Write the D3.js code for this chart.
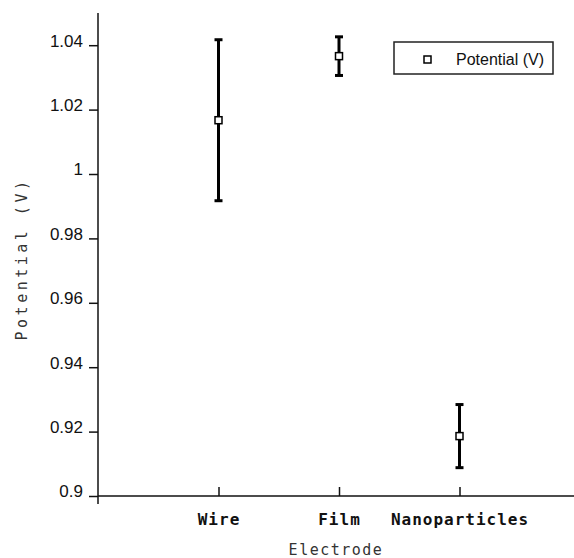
<!DOCTYPE html>
<html>
<head>
<meta charset="utf-8">
<script src="https://cdn.jsdelivr.net/npm/d3@7"></script>
<style>
  body { margin: 0; background: #fff; }
  svg { display: block; }
</style>
</head>
<body>
<svg id="chart" width="574" height="558"></svg>
<script>
const categories = ["Wire", "Film", "Nanoparticles"]
const potential = [1.0167, 1.0366, 0.9186]
const errors = [0.025, 0.006, 0.0098]
const yTicks = [0.9, 0.92, 0.94, 0.96, 0.98, 1, 1.02, 1.04]
const seriesName = "Potential (V)"

const svg = d3.select("#chart")
const plotLeft = 98, plotBottom = 496, plotTop = 13

const x = d3.scaleLinear().domain([0, 4]).range([plotLeft, 580])
const y = d3.scaleLinear().domain([0.9, 1.05]).range([plotBottom, plotTop])

const ink = "#111"

// y axis: ticks outward, line runs a bit below the x axis
const yAxis = svg.append("g")
    .attr("transform", "translate(" + plotLeft + ",0)")
    .call(d3.axisLeft(y).tickValues(yTicks).tickSize(9).tickPadding(6)
        .tickFormat(d => String(+d.toFixed(2))))
yAxis.select(".domain").remove()
yAxis.selectAll(".tick line").attr("stroke", ink).attr("stroke-width", 1.5)
yAxis.selectAll(".tick text")
    .attr("font-family", "'Liberation Sans', Arial, sans-serif")
    .attr("font-size", 17)
    .attr("fill", ink)
    .attr("dy", "0.05em")
svg.append("line")
    .attr("x1", plotLeft).attr("x2", plotLeft)
    .attr("y1", plotTop).attr("y2", plotBottom + 8)
    .attr("stroke", ink).attr("stroke-width", 1.5)

// x axis: ticks point inward
const xAxis = svg.append("g")
    .attr("transform", "translate(0," + plotBottom + ")")
    .call(d3.axisBottom(x).tickValues([1, 2, 3]).tickSize(-9).tickPadding(18)
        .tickFormat(d => categories[d - 1]))
xAxis.select(".domain").remove()
xAxis.selectAll(".tick line").attr("stroke", ink).attr("stroke-width", 1.5)
xAxis.selectAll(".tick text")
    .attr("font-family", "'DejaVu Sans Mono', monospace")
    .attr("font-weight", "bold")
    .attr("font-size", 16)
    .attr("letter-spacing", 1)
    .attr("fill", ink)
svg.append("line")
    .attr("x1", plotLeft).attr("x2", 574)
    .attr("y1", plotBottom).attr("y2", plotBottom)
    .attr("stroke", ink).attr("stroke-width", 1.5)

// axis titles
svg.append("text")
    .attr("x", (plotLeft + 574) / 2)
    .attr("y", 555)
    .attr("text-anchor", "middle")
    .attr("font-family", "'DejaVu Sans Mono', monospace")
    .attr("font-size", 15)
    .attr("letter-spacing", 1.5)
    .attr("fill", "#333")
    .text("Electrode")

svg.append("text")
    .attr("transform", "translate(27," + 259 + ") rotate(-90)")
    .attr("text-anchor", "middle")
    .attr("font-family", "'DejaVu Sans Mono', monospace")
    .attr("font-size", 15)
    .attr("letter-spacing", 3.5)
    .attr("fill", "#333")
    .text("Potential (V)")

// error bars + markers
const points = categories.map((c, i) => ({ c, i: i + 1, v: potential[i], e: errors[i] }))
const bars = svg.append("g").selectAll("g").data(points).enter().append("g")

bars.append("line")
    .attr("x1", d => x(d.i)).attr("x2", d => x(d.i))
    .attr("y1", d => y(d.v + d.e)).attr("y2", d => y(d.v - d.e))
    .attr("stroke", "#000").attr("stroke-width", 3)
bars.append("line")
    .attr("x1", d => x(d.i) - 4).attr("x2", d => x(d.i) + 4)
    .attr("y1", d => y(d.v + d.e)).attr("y2", d => y(d.v + d.e))
    .attr("stroke", "#000").attr("stroke-width", 3)
bars.append("line")
    .attr("x1", d => x(d.i) - 4).attr("x2", d => x(d.i) + 4)
    .attr("y1", d => y(d.v - d.e)).attr("y2", d => y(d.v - d.e))
    .attr("stroke", "#000").attr("stroke-width", 3)
bars.append("rect")
    .attr("x", d => x(d.i) - 3.5).attr("y", d => y(d.v) - 3.5)
    .attr("width", 7).attr("height", 7)
    .attr("fill", "#fff").attr("stroke", "#000").attr("stroke-width", 1.5)

// legend
const legend = svg.append("g").attr("transform", "translate(394,42)")
legend.append("rect")
    .attr("width", 159).attr("height", 32)
    .attr("fill", "#fff").attr("stroke", "#222").attr("stroke-width", 1.5)
legend.append("rect")
    .attr("x", 30).attr("y", 14)
    .attr("width", 7).attr("height", 7)
    .attr("fill", "#fff").attr("stroke", "#000").attr("stroke-width", 1.5)
legend.append("text")
    .attr("x", 62).attr("y", 23)
    .attr("font-family", "'Liberation Sans', Arial, sans-serif")
    .attr("font-size", 16)
    .attr("fill", ink)
    .text(seriesName)
</script>
</body>
</html>
